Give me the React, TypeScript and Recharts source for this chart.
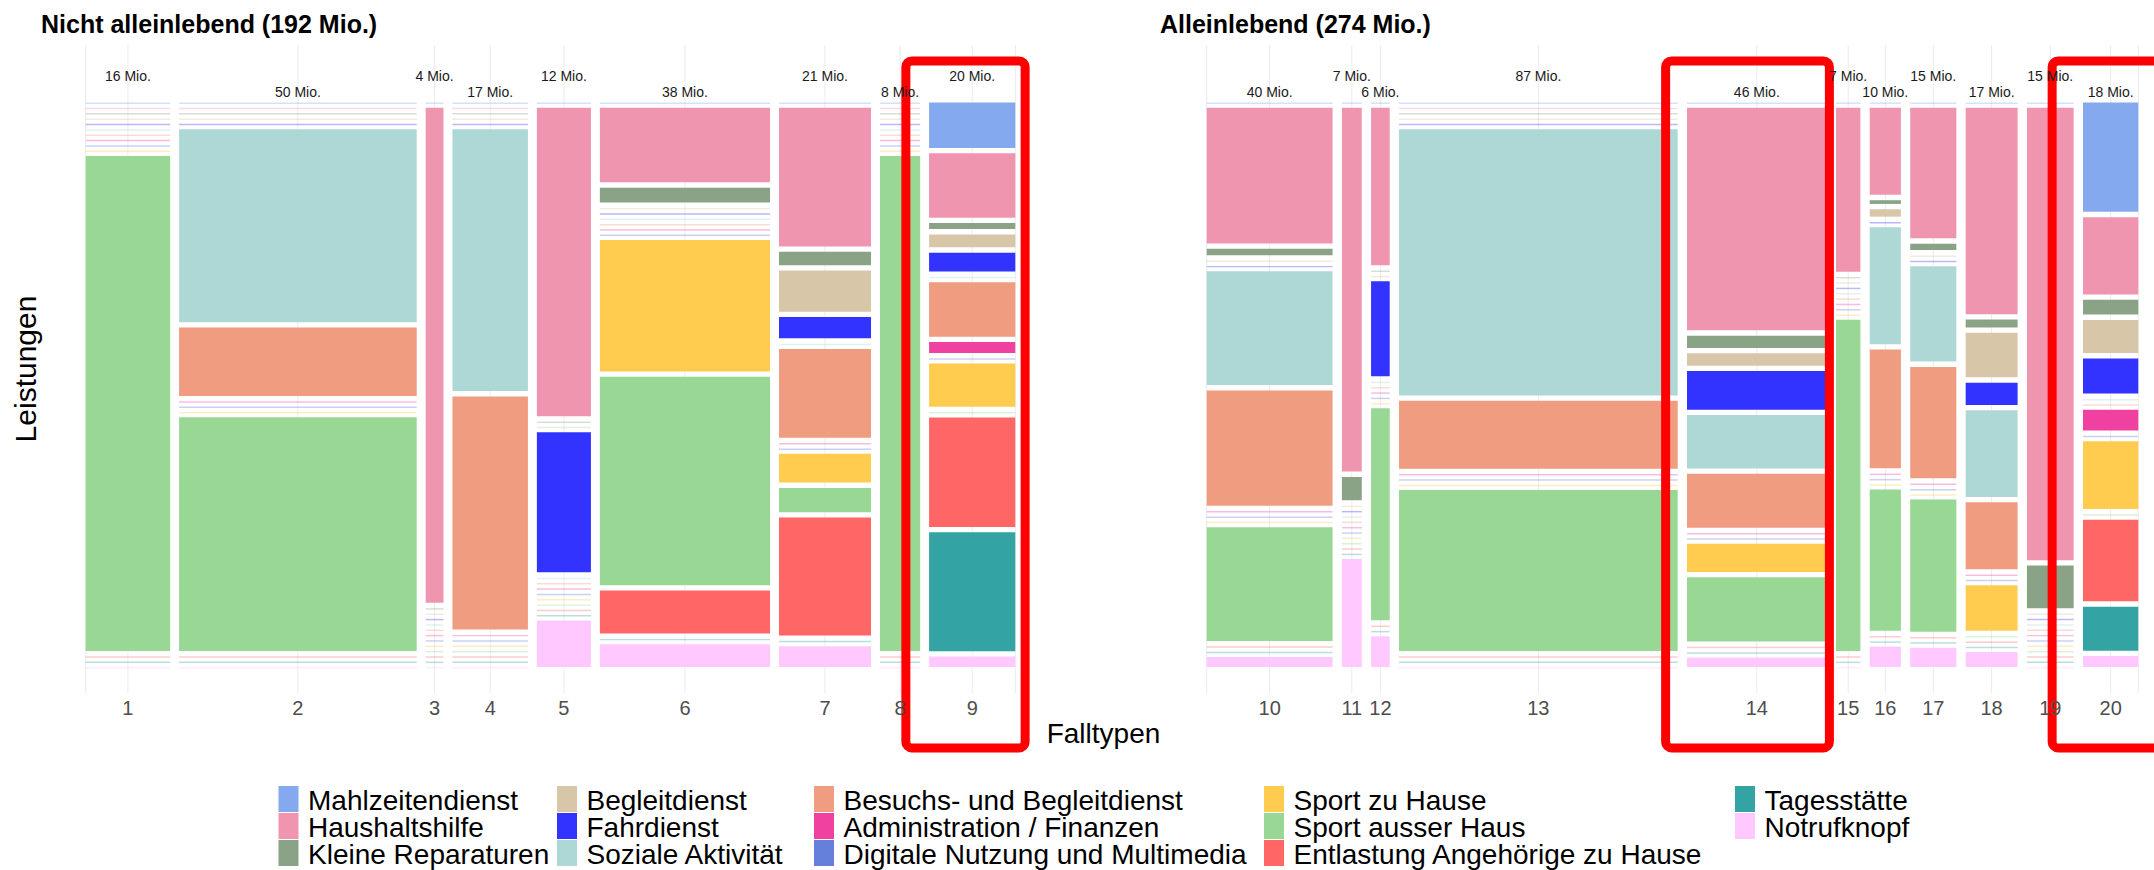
import React from 'react';
import {
  ComposedChart,
  XAxis,
  YAxis,
  CartesianGrid,
  ReferenceArea,
  Scatter,
} from 'recharts';

// Leistungen, von oben nach unten gestapelt (= Reihenfolge der Legende)
const leistungen = [
  'Mahlzeitendienst',
  'Haushaltshilfe',
  'Kleine Reparaturen',
  'Begleitdienst',
  'Fahrdienst',
  'Soziale Aktivität',
  'Besuchs- und Begleitdienst',
  'Administration / Finanzen',
  'Digitale Nutzung und Multimedia',
  'Sport zu Hause',
  'Sport ausser Haus',
  'Entlastung Angehörige zu Hause',
  'Tagesstätte',
  'Notrufknopf',
];

const farben = [
  '#85A9EE',
  '#F095B0',
  '#8AA387',
  '#D7C7A8',
  '#3333FF',
  '#ADD8D6',
  '#F09C80',
  '#F040A0',
  '#6480D8',
  '#FFCC50',
  '#98D794',
  '#FF6666',
  '#33A3A3',
  '#FFC8FF',
];

// Nicht alleinlebend
const falltypenNicht = [1, 2, 3, 4, 5, 6, 7, 8, 9];
const mioNicht = [16, 50, 4, 17, 12, 38, 21, 8, 20];
const breiteNicht = [18.9, 53.2, 4.0, 16.9, 12.1, 38.1, 20.6, 9.0, 19.3];
// Anteile in % je Falltyp, Reihenfolge wie `leistungen`
const anteileNicht = [
  [0, 0, 0, 0, 0, 0, 0, 0, 0, 0, 100, 0, 0, 0],
  [0, 0, 0, 0, 0, 39.0, 13.8, 0, 0, 0, 47.2, 0, 0, 0],
  [0, 100, 0, 0, 0, 0, 0, 0, 0, 0, 0, 0, 0, 0],
  [0, 0, 0, 0, 0, 52.9, 47.1, 0, 0, 0, 0, 0, 0, 0],
  [0, 62.3, 0, 0, 28.3, 0, 0, 0, 0, 0, 0, 0, 0, 9.4],
  [0, 15.1, 3.0, 0, 0, 0, 0, 0, 0, 26.6, 42.2, 8.7, 0, 4.6],
  [0, 28.0, 2.7, 8.3, 4.3, 0, 17.9, 0, 0, 5.8, 4.9, 23.8, 0, 4.2],
  [0, 0, 0, 0, 0, 0, 0, 0, 0, 0, 100, 0, 0, 0],
  [9.2, 13.0, 1.2, 2.6, 3.8, 0, 11.0, 2.2, 0, 8.7, 0, 22.1, 24.0, 2.1],
];

// Alleinlebend
const falltypenAllein = [10, 11, 12, 13, 14, 15, 16, 17, 18, 19, 20];
const mioAllein = [40, 7, 6, 87, 46, 7, 10, 15, 17, 15, 18];
const breiteAllein = [41.2, 6.5, 6.1, 91.2, 45.7, 8.0, 10.2, 15.1, 17.0, 15.3, 18.1];
const anteileAllein = [
  [0, 27.4, 1.3, 0, 0, 23.0, 23.3, 0, 0, 0, 23.0, 0, 0, 2.0],
  [0, 73.5, 4.7, 0, 0, 0, 0, 0, 0, 0, 0, 0, 0, 21.8],
  [0, 31.8, 0, 0, 19.2, 0, 0, 0, 0, 0, 42.8, 0, 0, 6.2],
  [0, 0, 0, 0, 0, 53.8, 13.7, 0, 0, 0, 32.5, 0, 0, 0],
  [0, 45.0, 2.5, 2.5, 7.8, 10.8, 10.9, 0, 0, 5.7, 13.0, 0, 0, 1.9],
  [0, 33.1, 0, 0, 0, 0, 0, 0, 0, 0, 66.9, 0, 0, 0],
  [0, 17.6, 0.75, 1.5, 0, 23.6, 24.0, 0, 0, 0, 28.5, 0, 0, 4.1],
  [0, 26.4, 1.3, 0, 0, 19.3, 22.5, 0, 0, 0, 26.7, 0, 0, 3.9],
  [0, 41.7, 1.6, 9.0, 4.5, 17.5, 13.5, 0, 0, 9.2, 0, 0, 0, 3.0],
  [0, 91.4, 8.6, 0, 0, 0, 0, 0, 0, 0, 0, 0, 0, 0],
  [22.1, 15.6, 3.0, 6.7, 7.1, 0, 0, 4.2, 0, 13.7, 0, 16.5, 8.9, 2.2],
];

// rot markierte Falltypen (Abstand des Rahmens links/rechts in Mio.-Einheiten)
const markierungen = [
  { falltyp: 9, links: 5.2, rechts: 2.2 },
  { falltyp: 14, links: 7.0, rechts: 0.9 },
  { falltyp: 20, links: 10.1, rechts: 10 },
];

const FONT = '"Liberation Sans", Arial, Helvetica, sans-serif';
const GAP_Y = 0.0108;
const Y_DOMAIN: [number, number] = [-0.116, 1.193];
const LABEL_Y = [-0.0438, -0.0103];
const LEER_H = 0.003;
const RAHMEN_Y = [-0.0836, 1.304];

function spalten(breite: number[], anteile: number[][], gapX: number) {
  let x = 0;
  return breite.map((b, i) => {
    const x1 = x;
    const x2 = x + b;
    x = x2 + gapX;
    const summe = anteile[i].reduce((a, c) => a + c, 0);
    let y = 0;
    const zellen = anteile[i].map((a, k) => {
      const h = a / summe;
      const z = { k, y1: y, y2: y + h, leer: a === 0 };
      y += h + GAP_Y;
      return z;
    });
    return { x1, x2, mitte: (x1 + x2) / 2, zellen };
  });
}

const MioLabel = (p: any) => (
  <text x={p.cx} y={p.cy} textAnchor="middle" fontSize={14} fill="#1a1a1a">
    {p.payload.text}
  </text>
);

const Rahmen = (p: any) => (
  <rect
    x={p.x}
    y={p.y}
    width={p.width}
    height={p.height}
    rx={6}
    fill="none"
    stroke="#FF0000"
    strokeWidth={9}
  />
);

interface MosaikProps {
  falltypen: number[];
  mio: number[];
  breite: number[];
  anteile: number[][];
  gapX: number;
  margin: { top: number; right: number; bottom: number; left: number };
}

function Mosaik({ falltypen, mio, breite, anteile, gapX, margin }: MosaikProps) {
  const cols = spalten(breite, anteile, gapX);
  const xMax = cols[cols.length - 1].x2;
  const mitten = cols.map((c) => c.mitte);
  const labels = cols.map((c, i) => ({
    x: c.mitte,
    y: falltypen[i] % 2 === 1 ? LABEL_Y[0] : LABEL_Y[1],
    text: `${mio[i]} Mio.`,
  }));

  return (
    <ComposedChart width={1077} height={780} margin={margin}>
      <CartesianGrid vertical horizontal={false} stroke="#EBEBEB" />
      <XAxis
        type="number"
        dataKey="x"
        domain={[0, xMax]}
        allowDataOverflow
        ticks={mitten}
        interval={0}
        tickFormatter={(v: number) => String(falltypen[mitten.indexOf(v)] ?? '')}
        axisLine={false}
        tickLine={false}
        tickSize={6}
        tick={{ fontSize: 20, fill: '#4D4D4D' }}
        height={30}
      />
      <YAxis type="number" dataKey="y" domain={Y_DOMAIN} allowDataOverflow reversed hide width={0} />
      {cols.map((c, i) =>
        c.zellen.map((z) => (
          <ReferenceArea
            key={`${i}-${z.k}`}
            x1={c.x1}
            x2={c.x2}
            y1={z.y1}
            y2={z.leer ? z.y1 + LEER_H : z.y2}
            fill={farben[z.k]}
            fillOpacity={z.leer ? 0.35 : 1}
            stroke="none"
          />
        ))
      )}
      <Scatter data={labels} shape={MioLabel} isAnimationActive={false} />
      {markierungen
        .filter((m) => falltypen.includes(m.falltyp))
        .map((m) => {
          const c = cols[falltypen.indexOf(m.falltyp)];
          return (
            <ReferenceArea
              key={`m${m.falltyp}`}
              x1={c.x1 - m.links}
              x2={c.x2 + m.rechts}
              y1={RAHMEN_Y[0]}
              y2={RAHMEN_Y[1]}
              ifOverflow="visible"
              shape={Rahmen}
            />
          );
        })}
    </ComposedChart>
  );
}

const legendeX = [278.5, 557, 814, 1264, 1735];
const legendeY = [785.5, 812.5, 839.5];

export default function App() {
  return (
    <div
      style={{
        position: 'absolute',
        left: 0,
        top: 0,
        width: 2154,
        height: 870,
        background: '#fff',
        fontFamily: FONT,
        overflow: 'hidden',
      }}
    >
      <div style={{ position: 'absolute', left: 0, top: 0 }}>
        <Mosaik
          falltypen={falltypenNicht}
          mio={mioNicht}
          breite={breiteNicht}
          anteile={anteileNicht}
          gapX={2.0}
          margin={{ top: 45, right: 61.7, bottom: 57, left: 85.7 }}
        />
      </div>
      <div style={{ position: 'absolute', left: 1077, top: 0 }}>
        <Mosaik
          falltypen={falltypenAllein}
          mio={mioAllein}
          breite={breiteAllein}
          anteile={anteileAllein}
          gapX={3.05}
          margin={{ top: 45, right: 15.7, bottom: 57, left: 129.7 }}
        />
      </div>
      <svg
        width={2154}
        height={870}
        style={{ position: 'absolute', left: 0, top: 0, pointerEvents: 'none' }}
      >
        <text x={41} y={33.3} fontSize={25} fontWeight="bold" fill="#000">
          Nicht alleinlebend (192 Mio.)
        </text>
        <text x={1160} y={33.3} fontSize={25} fontWeight="bold" fill="#000">
          Alleinlebend (274 Mio.)
        </text>
        <text
          transform="translate(35.5,369) rotate(-90)"
          textAnchor="middle"
          fontSize={30}
          fill="#000"
        >
          Leistungen
        </text>
        <text x={1046.7} y={743} fontSize={28} fill="#000">
          Falltypen
        </text>
        {leistungen.map((name, i) => {
          const col = Math.floor(i / 3);
          const row = i % 3;
          return (
            <g key={name}>
              <rect
                x={legendeX[col]}
                y={legendeY[row] + 0.5}
                width={20}
                height={26}
                fill={farben[i]}
              />
              <text x={legendeX[col] + 29.5} y={legendeY[row] + 24} fontSize={28} fill="#000">
                {name}
              </text>
            </g>
          );
        })}
      </svg>
    </div>
  );
}
